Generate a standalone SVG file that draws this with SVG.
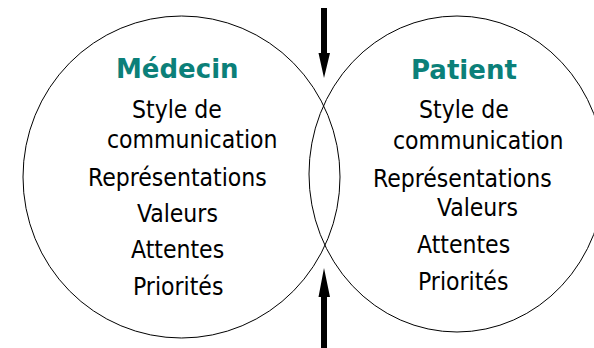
<svg xmlns="http://www.w3.org/2000/svg" width="594" height="348" viewBox="0 0 594 348">
<style>
.c{fill:none;stroke:#000;stroke-width:1}
.t{font-family:"DejaVu Sans Condensed","DejaVu Sans",sans-serif;font-stretch:condensed;font-size:24.5px;fill:#000}
.h{font-family:"DejaVu Sans",sans-serif;font-weight:bold;font-size:26px;fill:#0b8079}
.a{fill:#000}
</style>
<rect width="594" height="348" fill="#fff"/>
<g id="medecin">
<ellipse class="c" cx="181.5" cy="177" rx="158.5" ry="161"/>
<text class="h" x="116" y="78">Médecin</text>
<text class="t" x="132" y="118">Style de</text>
<text class="t" x="107" y="148">communication</text>
<text class="t" x="88" y="186">Représentations</text>
<text class="t" x="137" y="222">Valeurs</text>
<text class="t" x="131" y="258">Attentes</text>
<text class="t" x="133" y="295">Priorités</text>
</g>
<g id="patient">
<ellipse class="c" cx="457" cy="174" rx="148" ry="158"/>
<text class="h" x="411" y="79">Patient</text>
<text class="t" x="419" y="118">Style de</text>
<text class="t" x="393" y="149">communication</text>
<text class="t" x="373" y="187">Représentations</text>
<text class="t" x="437" y="216">Valeurs</text>
<text class="t" x="417" y="253">Attentes</text>
<text class="t" x="418" y="290">Priorités</text>
</g>
<g id="connectors">
<polygon class="a" points="321,8 327,8 327,53 330,53 324,78 318.5,53 321,53"/>
<polygon class="a" points="321,348 327,348 327,297 330,297 324,268 318.5,297 321,297"/>
</g>
</svg>
